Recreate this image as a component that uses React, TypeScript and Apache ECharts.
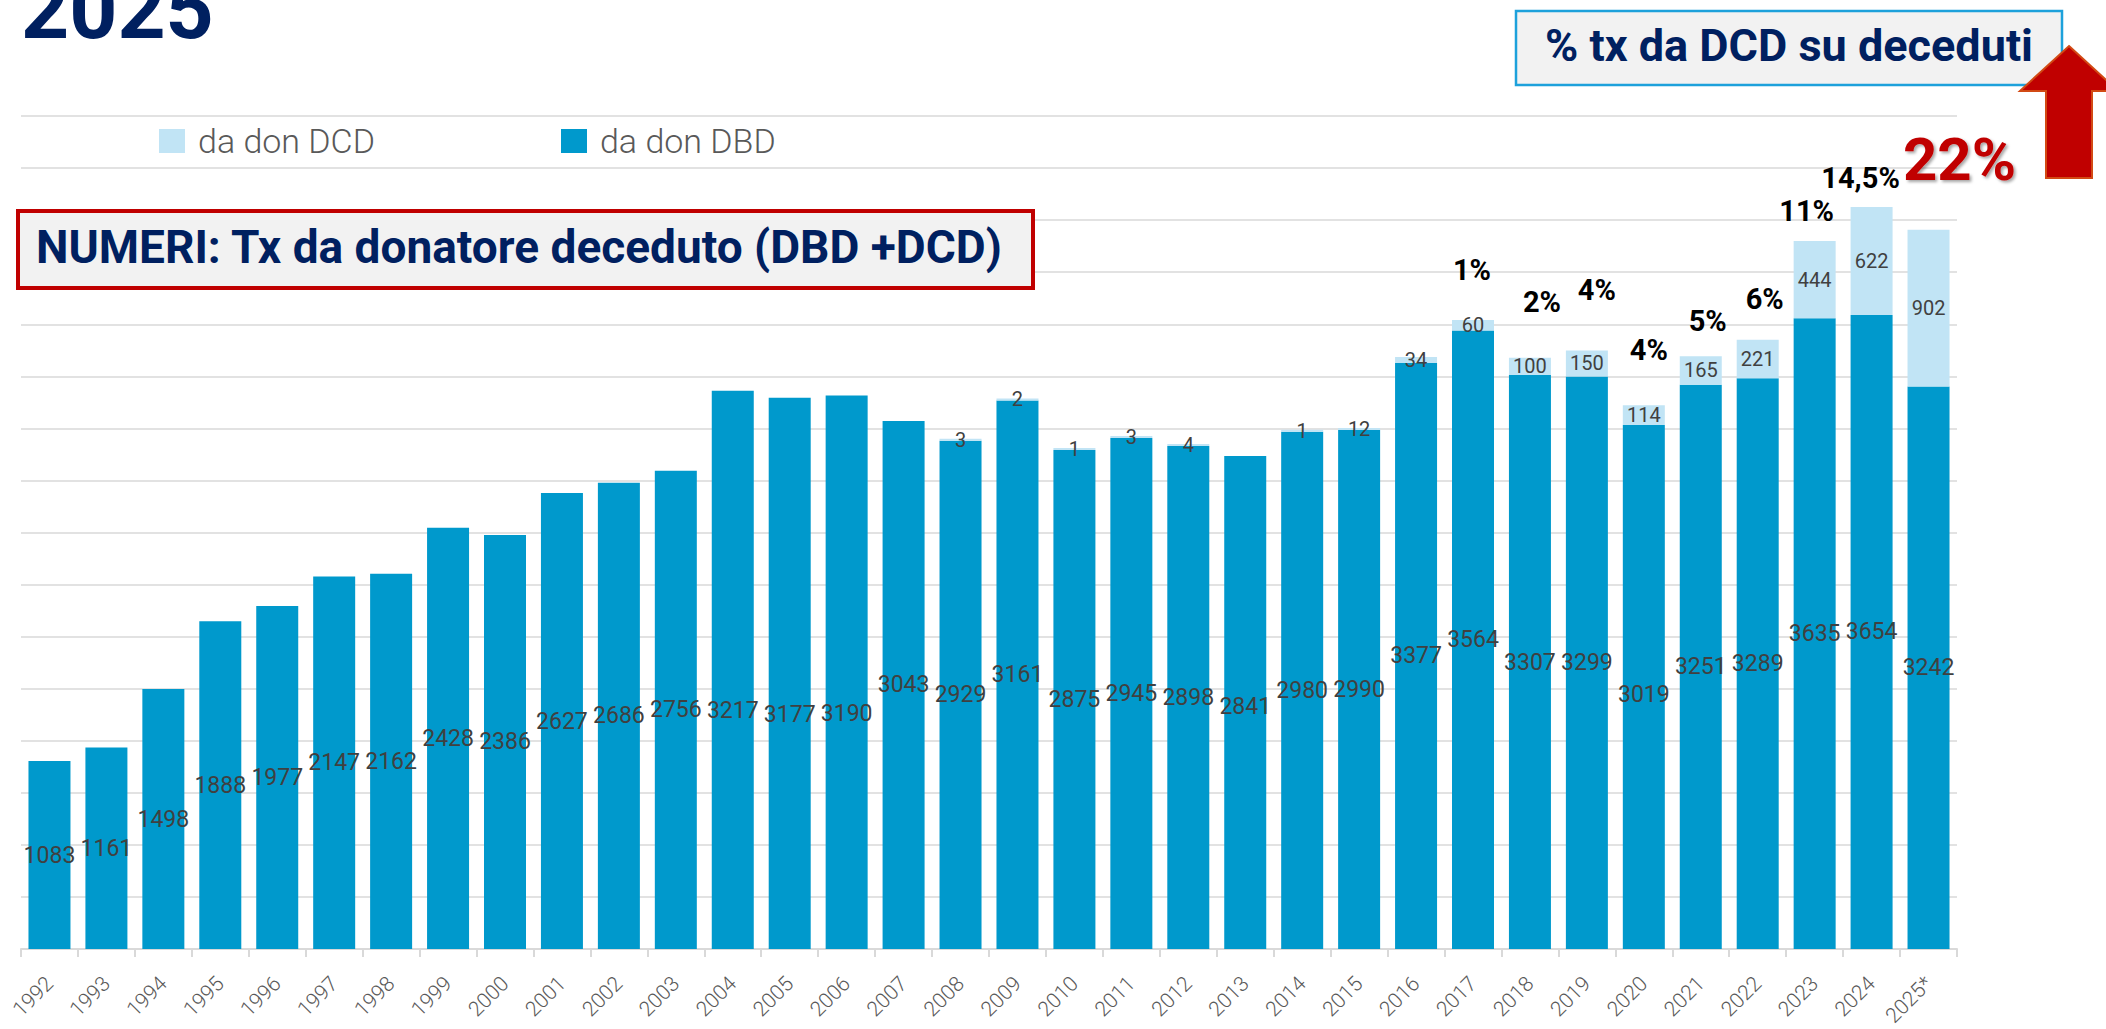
import React, { useEffect, useRef } from "react";
import * as echarts from "echarts";

// ---------- DATA ----------
const years = [
  "1992", "1993", "1994", "1995", "1996", "1997", "1998", "1999", "2000", "2001",
  "2002", "2003", "2004", "2005", "2006", "2007", "2008", "2009", "2010", "2011",
  "2012", "2013", "2014", "2015", "2016", "2017", "2018", "2019", "2020", "2021",
  "2022", "2023", "2024", "2025*",
];
const dbdValues = [
  1083, 1161, 1498, 1888, 1977, 2147, 2162, 2428, 2386, 2627,
  2686, 2756, 3217, 3177, 3190, 3043, 2929, 3161, 2875, 2945,
  2898, 2841, 2980, 2990, 3377, 3564, 3307, 3299, 3019, 3251,
  3289, 3635, 3654, 3242,
];
const dcdValues: (number | null)[] = [
  null, null, null, null, null, null, null, null, null, null,
  null, null, null, null, null, null, 3, 2, 1, 3,
  4, null, 1, 12, 34, 60, 100, 150, 114, 165,
  221, 444, 622, 902,
];
const pctYears = ["2017", "2018", "2019", "2020", "2021", "2022", "2023", "2024", "2025*"];
const pctLabels = ["1%", "2%", "4%", "4%", "5%", "6%", "11%", "14,5%", "22%"];
const yMax = 4800;
const yInterval = 300;

const seriesNames = { dcd: "da don DCD", dbd: "da don DBD" };
const titleYear = "2025";
const boxTitle = "NUMERI: Tx da donatore deceduto (DBD +DCD)";
const pctBoxTitle = "% tx da DCD su deceduti";

// ---------- LAYOUT / STYLE ----------
const W = 2106;
const H = 1029;
const FONT = "Roboto";
const NAVY = "#002060";
const DARK_BLUE = "#0099cc";
const LIGHT_BLUE = "#c1e4f5";
const LABEL_COLOR = "#404040";
const GRID_COLOR = "#d9d9d9";
// manual label shifts (px) applied to some DBD labels, as in the original
const dbdLabelShift: Record<string, number> = { "2004": 41, "2005": 41, "2006": 41, "2013": 4, "2020": 7 };
// offsets of the percentage annotations from their bar tops (px)
const pctOffsets = [
  [-1, -50], [12, -56], [10, -60], [5, -55], [7, -35], [7, -41], [-8, -30], [-11, -29], [31, -70],
];
const highlightPct = "22%";

export default function App() {
  const ref = useRef<HTMLDivElement>(null);

  useEffect(() => {
    if (!ref.current) return;
    const chart = echarts.init(ref.current, null, { renderer: "svg" });

    const dbdData = dbdValues.map((v, i) => {
      const s = dbdLabelShift[years[i]];
      return s ? { value: v, label: { offset: [0, s] } } : v;
    });

    const pctData = pctYears.map((y) => {
      const i = years.indexOf(y);
      return [i, dbdValues[i] + (dcdValues[i] || 0)];
    });

    const option: any = {
      animation: false,
      backgroundColor: "#ffffff",
      grid: {
        left: 21,
        right: 149,
        top: 116,
        bottom: 80,
        containLabel: false,
        outerBoundsMode: "none",
      },
      legend: {
        data: [seriesNames.dcd, seriesNames.dbd],
        left: 154,
        top: 119,
        icon: "rect",
        itemWidth: 26,
        itemHeight: 24,
        itemGap: 186,
        textStyle: {
          fontFamily: FONT,
          fontWeight: 300,
          fontSize: 34,
          color: "#595959",
          padding: [0, 0, 0, 8],
        },
      },
      xAxis: {
        type: "category",
        data: years,
        axisLine: { show: true, lineStyle: { color: GRID_COLOR, width: 2 } },
        axisTick: { show: true, length: 8, lineStyle: { color: GRID_COLOR, width: 2 } },
        axisLabel: {
          rotate: 45,
          margin: 31,
          interval: 0,
          fontFamily: FONT,
          fontWeight: 300,
          fontSize: 21,
          color: "#595959",
        },
      },
      yAxis: {
        type: "value",
        min: 0,
        max: yMax,
        interval: yInterval,
        axisLabel: { show: false },
        axisLine: { show: false },
        axisTick: { show: false },
        splitLine: { show: true, lineStyle: { color: GRID_COLOR, width: 1.6 } },
      },
      series: [
        {
          name: seriesNames.dbd,
          type: "bar",
          stack: "tx",
          data: dbdData,
          barWidth: 42,
          itemStyle: { color: DARK_BLUE },
          label: {
            show: true,
            position: "inside",
            color: LABEL_COLOR,
            fontFamily: FONT,
            fontSize: 23,
            textBorderWidth: 0,
          },
          z: 2,
        },
        {
          name: seriesNames.dcd,
          type: "bar",
          stack: "tx",
          data: dcdValues,
          barWidth: 42,
          barMinHeight: 2,
          itemStyle: { color: LIGHT_BLUE },
          label: {
            show: true,
            position: "inside",
            color: LABEL_COLOR,
            fontFamily: FONT,
            fontSize: 20,
            textBorderWidth: 0,
            formatter: (p: any) => (p.value == null ? "" : String(p.value)),
          },
          z: 2,
        },
        {
          name: "pct",
          type: "custom",
          data: pctData,
          encode: { x: 0, y: 1 },
          silent: true,
          z: 10,
          renderItem: (params: any, api: any) => {
            const idx = params.dataIndex;
            const pt = api.coord([api.value(0), api.value(1)]);
            const off = pctOffsets[idx];
            const text = pctLabels[idx];
            const hi = text === highlightPct;
            return {
              type: "text",
              x: pt[0] + off[0],
              y: pt[1] + off[1],
              style: {
                text,
                fill: hi ? "#c00000" : "#000000",
                fontFamily: FONT,
                fontWeight: "bold",
                fontSize: hi ? 60 : 29,
                align: "center",
                verticalAlign: "middle",
                textShadowColor: hi ? "rgba(0,0,0,0.35)" : "transparent",
                textShadowBlur: hi ? 3 : 0,
                textShadowOffsetX: hi ? 2 : 0,
                textShadowOffsetY: hi ? 2 : 0,
              },
            };
          },
        },
      ],
      graphic: [
        {
          type: "text",
          x: 21,
          y: 9,
          z: 100,
          style: {
            text: titleYear,
            fontFamily: FONT,
            fontWeight: "bold",
            fontSize: 84,
            fill: NAVY,
            align: "left",
            verticalAlign: "middle",
          },
        },
        {
          type: "rect",
          z: 100,
          shape: { x: 18, y: 211, width: 1015, height: 77 },
          style: { fill: "#f2f2f2", stroke: "#c00000", lineWidth: 4 },
        },
        {
          type: "text",
          x: 36,
          y: 247,
          z: 101,
          style: {
            text: boxTitle,
            fontFamily: FONT,
            fontWeight: "bold",
            fontSize: 46,
            fill: NAVY,
            align: "left",
            verticalAlign: "middle",
          },
        },
        {
          type: "rect",
          z: 100,
          shape: { x: 1516, y: 11, width: 546, height: 74 },
          style: { fill: "#f2f2f2", stroke: "#1da1db", lineWidth: 2.5 },
        },
        {
          type: "text",
          x: 1789,
          y: 45,
          z: 101,
          style: {
            text: pctBoxTitle,
            fontFamily: FONT,
            fontWeight: "bold",
            fontSize: 45,
            fill: NAVY,
            align: "center",
            verticalAlign: "middle",
          },
        },
        {
          type: "polygon",
          z: 100,
          shape: {
            points: [
              [2069, 46], [2118, 91], [2092, 91], [2092, 178], [2046, 178], [2046, 91], [2020, 91],
            ],
          },
          style: { fill: "#c00000", stroke: "#d24a14", lineWidth: 2 },
        },
      ],
    };

    chart.setOption(option);
    return () => chart.dispose();
  }, []);

  return (
    <div
      ref={ref}
      style={{ position: "fixed", left: 0, top: 0, width: W + "px", height: H + "px", background: "#fff" }}
    />
  );
}
